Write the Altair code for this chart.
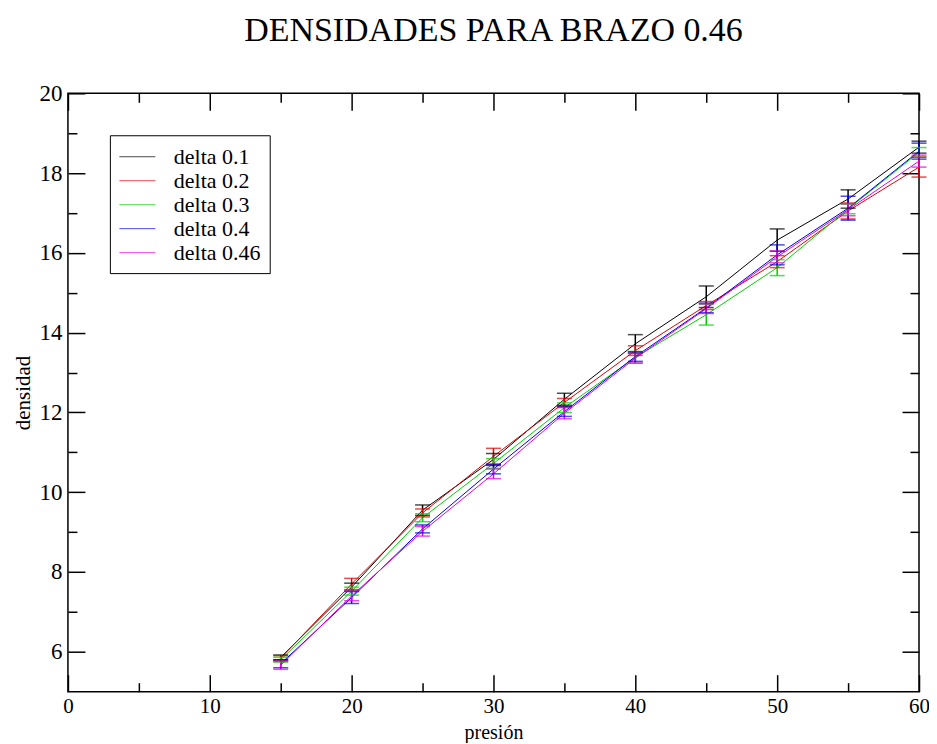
import altair as alt
import pandas as pd

# ---- data ----
presion = [15, 20, 25, 30, 35, 40, 45, 50, 55, 60]
series = ["delta 0.1", "delta 0.2", "delta 0.3", "delta 0.4", "delta 0.46"]
colors = ["#000000", "#e00000", "#00d000", "#0000e0", "#e000e0"]

d01 = [5.86, 7.62, 9.55, 10.82, 12.33, 13.72, 14.90, 16.32, 17.35, 18.65]
d02 = [5.84, 7.70, 9.48, 10.90, 12.25, 13.55, 14.68, 15.78, 17.05, 18.15]
d03 = [5.80, 7.52, 9.36, 10.72, 12.12, 13.38, 14.45, 15.63, 17.10, 18.52]
d04 = [5.70, 7.36, 9.08, 10.58, 12.02, 13.40, 14.62, 15.95, 17.12, 18.55]
d046 = [5.66, 7.40, 9.02, 10.46, 11.98, 13.36, 14.60, 15.90, 17.08, 18.30]

e01 = [0.06, 0.10, 0.13, 0.15, 0.15, 0.23, 0.27, 0.28, 0.23, 0.15]
e02 = [0.06, 0.14, 0.10, 0.20, 0.10, 0.12, 0.10, 0.15, 0.20, 0.25]
e03 = [0.06, 0.10, 0.10, 0.12, 0.12, 0.15, 0.26, 0.20, 0.12, 0.12]
e04 = [0.10, 0.15, 0.10, 0.12, 0.12, 0.12, 0.12, 0.25, 0.30, 0.20]
e046 = [0.10, 0.12, 0.12, 0.12, 0.14, 0.12, 0.12, 0.15, 0.15, 0.15]

x_major = [0, 10, 20, 30, 40, 50, 60]
x_minor = [5, 15, 25, 35, 45, 55]
y_major = [6, 8, 10, 12, 14, 16, 18, 20]
y_minor = [7, 9, 11, 13, 15, 17, 19]

rows = []
for name, vals, errs in zip(series, [d01, d02, d03, d04, d046], [e01, e02, e03, e04, e046]):
    for p, v, e in zip(presion, vals, errs):
        rows.append({"serie": name, "presion": p, "densidad": v, "lo": v - e, "hi": v + e})
df = pd.DataFrame(rows)

FONT = "Liberation Serif"
x_scale = alt.Scale(domain=[0, 60], nice=False, zero=False)
y_scale = alt.Scale(domain=[5, 20], nice=False, zero=False)

color = alt.Color(
    "serie:N",
    scale=alt.Scale(domain=series, range=colors),
    legend=alt.Legend(
        title=None,
        orient="none",
        legendX=42,
        legendY=42,
        strokeColor="black",
        fillColor="white",
        padding=9,
        symbolType="M-1,0H2",
        symbolSize=576,
        symbolStrokeWidth=1,
        labelFont=FONT,
        labelFontSize=22,
        labelColor="black",
        labelOffset=30,
        rowPadding=0,
    ),
)


def tick_axis(orient, values, size):
    return alt.Axis(
        orient=orient, values=values, tickSize=size, offset=-size, labels=False,
        domain=False, grid=False, title=None, tickColor="black", tickWidth=1.5,
    )


base = alt.Chart(df)

lines = base.mark_line(strokeWidth=1).encode(
    x=alt.X("presion:Q", scale=x_scale, axis=alt.Axis(
        orient="bottom", values=x_major, ticks=False, domain=False, grid=False,
        labelFont=FONT, labelFontSize=21, labelColor="black", labelPadding=4,
        labelFlush=False,
        title="presión", titleFont=FONT, titleFontSize=20, titleFontWeight="normal",
        titleColor="black", titleBaseline="alphabetic", titleY=47)),
    y=alt.Y("densidad:Q", scale=y_scale, axis=alt.Axis(
        orient="left", values=y_major, ticks=False, domain=False, grid=False,
        labelFont=FONT, labelFontSize=23, labelColor="black", labelPadding=6,
        labelFlush=False,
        title="densidad", titleFont=FONT, titleFontSize=21, titleFontWeight="normal",
        titleColor="black", titlePadding=5)),
    color=color,
    order="presion:Q",
)

err = base.mark_rule(strokeWidth=1.5).encode(
    x=alt.X("presion:Q", scale=x_scale, axis=tick_axis("bottom", x_major, 17)),
    y=alt.Y("lo:Q", scale=y_scale, axis=tick_axis("left", y_major, 17)),
    y2="hi:Q",
    color=color,
)

caps_lo = base.mark_tick(orient="horizontal", size=15, thickness=1.5).encode(
    x=alt.X("presion:Q", scale=x_scale, axis=tick_axis("bottom", x_minor, 9)),
    y=alt.Y("lo:Q", scale=y_scale, axis=tick_axis("left", y_minor, 9)),
    color=color,
)

caps_hi = base.mark_tick(orient="horizontal", size=15, thickness=1.5).encode(
    x=alt.X("presion:Q", scale=x_scale, axis=tick_axis("top", x_major, 17)),
    y=alt.Y("hi:Q", scale=y_scale, axis=tick_axis("right", y_major, 17)),
    color=color,
)

ghost = base.mark_point(opacity=0).encode(
    x=alt.X("presion:Q", scale=x_scale, axis=tick_axis("top", x_minor, 9)),
    y=alt.Y("densidad:Q", scale=y_scale, axis=tick_axis("right", y_minor, 9)),
)

chart = (
    alt.layer(lines, err, caps_lo, caps_hi, ghost)
    .resolve_scale(x="shared", y="shared", color="shared")
    .resolve_axis(x="independent", y="independent")
    .properties(
        width=852,
        height=599,
        autosize=alt.AutoSizeParams(type="none"),
        padding={"left": 60, "top": 85, "right": 10, "bottom": 51},
        title=alt.TitleParams(
            "DENSIDADES PARA BRAZO 0.46", font=FONT, fontSize=34, fontWeight="normal",
            color="black", anchor="middle", frame="group", offset=34,
        ),
        background="white",
    )
    .configure_view(stroke="black", strokeWidth=1.5)
)

chart.save("out.html", embed_options={"renderer": "svg", "actions": False})
